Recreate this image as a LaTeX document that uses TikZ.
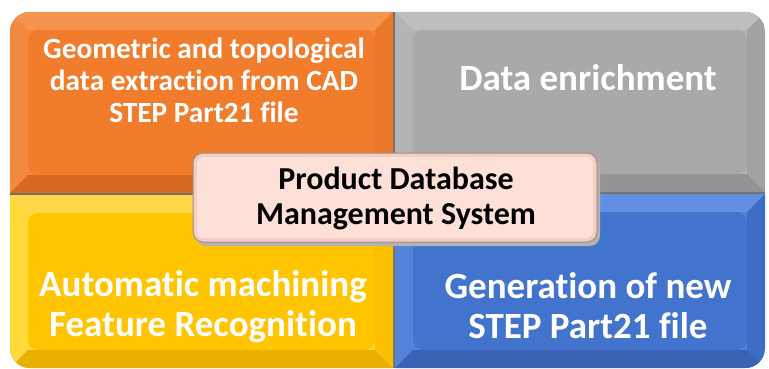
\documentclass[tikz,border=0pt]{standalone}
\usepackage{fontspec}
\setmainfont{Carlito}[Ligatures={NoCommon,NoContextual,NoRare},Contextuals={NoAlternate}]
\definecolor{gapcol}{HTML}{707070}
\definecolor{orF}{HTML}{F07C2C}\definecolor{orT}{HTML}{F4944F}\definecolor{orL}{HTML}{F3893E}\definecolor{orR}{HTML}{EC7829}\definecolor{orB}{HTML}{D86A22}
\definecolor{grF}{HTML}{A9A9A9}\definecolor{grT}{HTML}{BEBEBE}\definecolor{grL}{HTML}{B4B4B4}\definecolor{grR}{HTML}{A2A2A2}\definecolor{grB}{HTML}{949494}
\definecolor{yeF}{HTML}{FFC500}\definecolor{yeT}{HTML}{FFD84A}\definecolor{yeL}{HTML}{FFDA38}\definecolor{yeR}{HTML}{FCBE00}\definecolor{yeB}{HTML}{E8B000}
\definecolor{blF}{HTML}{4273CD}\definecolor{blT}{HTML}{628FDF}\definecolor{blL}{HTML}{5382D9}\definecolor{blR}{HTML}{3E6DC7}\definecolor{blB}{HTML}{3A62B5}
\definecolor{pinkF}{HTML}{FDE0D7}\definecolor{pinkR}{HTML}{F3CEC4}\definecolor{pinkE}{HTML}{A08E8A}
% #1 x1 #2 y1 #3 x2 #4 y2 #5 prefix
\newcommand\myquad[5]{%
  \fill[#5L] (#1,#2) rectangle (#3,#4);
  \fill[#5T] (#1,#2) -- (#3,#2) -- ({#3-18},{#2+18}) -- ({#1+18},{#2+18}) -- cycle;
  \fill[#5R] (#3,#2) -- (#3,#4) -- ({#3-18},{#4-18}) -- ({#3-18},{#2+18}) -- cycle;
  \fill[#5B] (#1,#4) -- (#3,#4) -- ({#3-18},{#4-18}) -- ({#1+18},{#4-18}) -- cycle;
  \fill[#5F,rounded corners=10pt] ({#1+18},{#2+18}) rectangle ({#3-18},{#4-18});
}
\begin{document}
\begin{tikzpicture}[x=1pt,y=-1pt,
  txt/.style={text=white,font=\bfseries,align=center,inner sep=0pt},
  bigtxt/.style={txt,font=\fontsize{37}{40}\selectfont\bfseries},
  midtxt/.style={txt,font=\fontsize{29.3}{32}\selectfont\bfseries}]
\useasboundingbox (0,0) rectangle (769,369);
\fill[white] (0,0) rectangle (769,369);
\begin{scope}
  \clip[rounded corners=20pt] (10,12) rectangle (765,368);
  \fill[gapcol] (10,12) rectangle (765,368);
  \myquad{10}{12}{393}{193}{or}
  \myquad{395}{12}{765}{192}{gr}
  \myquad{10}{195}{393}{368}{ye}
  \myquad{395}{194}{765}{368}{bl}
\end{scope}
\node[midtxt] (q1) at (204,80) {Geometric and topological\\data extraction from CAD\\STEP Part21 file};
\node[bigtxt] (q2) at (588,78) {Data enrichment};
\node[bigtxt] (q3) at (203,307) {Automatic machining\\Feature Recognition};
\node[bigtxt] (q4) at (588,306) {Generation of new\\STEP Part21 file};
% center box
\fill[black!30,rounded corners=10pt] (196,157) rectangle (600,246);
\filldraw[draw=pinkE,line width=1pt,fill=pinkR,rounded corners=10pt] (193,153) rectangle (597,242);
\fill[pinkF,rounded corners=7pt] (197,157) rectangle (593,238);
\node[txt,text=black,font=\fontsize{32}{35}\selectfont\bfseries] (c) at (396,198) {Product Database\\Management System};
\end{tikzpicture}
\end{document}
